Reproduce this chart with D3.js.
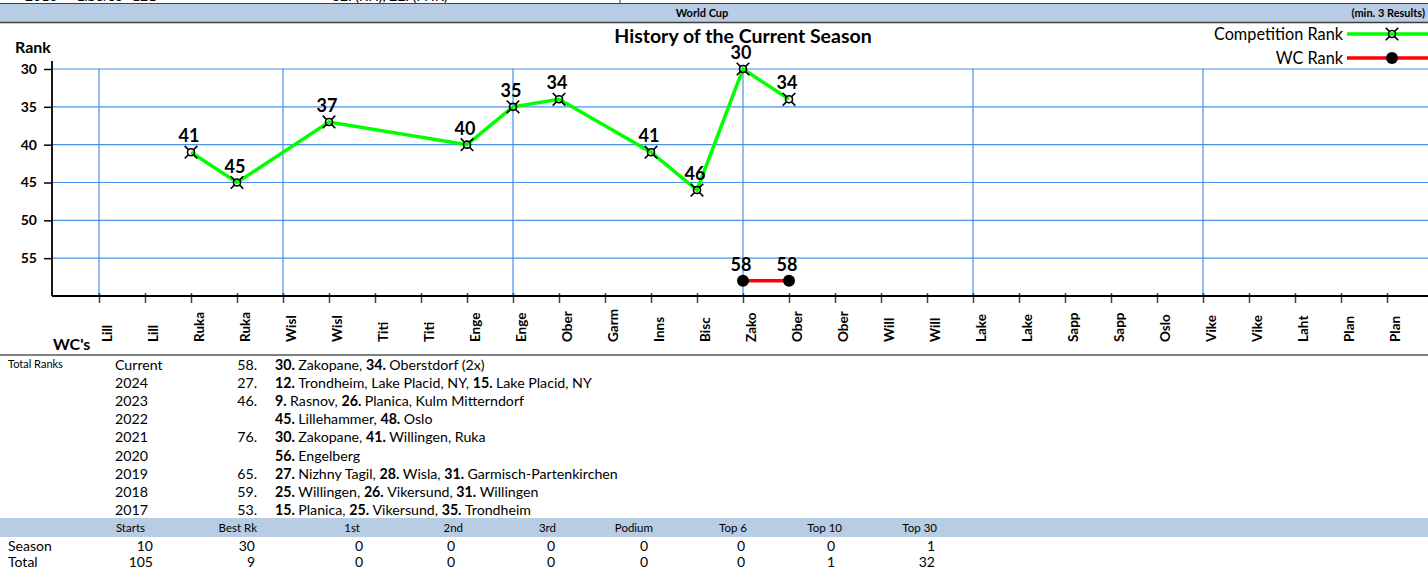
<!DOCTYPE html>
<html>
<head>
<meta charset="utf-8">
<script src="https://cdn.jsdelivr.net/npm/d3@7"></script>
<style>
body { margin: 0; background: #fff; }
svg text { font-family: Lato, "Open Sans", sans-serif; fill: #000; }
</style>
</head>
<body>
<div class="chart"></div>
<script>
// ---- data ----
const venues = ['Lill','Lill','Ruka','Ruka','Wisl','Wisl','Titi','Titi','Enge','Enge',
  'Ober','Garm','Inns','Bisc','Zako','Ober','Ober','Will','Will','Lake','Lake',
  'Sapp','Sapp','Oslo','Vike','Vike','Laht','Plan','Plan'];
const compRank = [null,null,41,45,null,37,null,null,40,35,34,null,41,46,30,34,
  null,null,null,null,null,null,null,null,null,null,null,null,null];
const wcRank = [null,null,null,null,null,null,null,null,null,null,null,null,null,null,58,58,
  null,null,null,null,null,null,null,null,null,null,null,null,null];
const rankTicks = [30,35,40,45,50,55];
const gridIdx = [0,4,9,14,19,24];

const yearLabels = ['Current','2024','2023','2022','2021','2020','2019','2018','2017'];
const yearTotals = ['58.','27.','46.','','76.','','65.','59.','53.'];
const yearBest = [
  '**30.** Zakopane, **34.** Oberstdorf (2x)',
  '**12.** Trondheim, Lake Placid, NY, **15.** Lake Placid, NY',
  '**9.** Rasnov, **26.** Planica, Kulm Mitterndorf',
  '**45.** Lillehammer, **48.** Oslo',
  '**30.** Zakopane, **41.** Willingen, Ruka',
  '**56.** Engelberg',
  '**27.** Nizhny Tagil, **28.** Wisla, **31.** Garmisch-Partenkirchen',
  '**25.** Willingen, **26.** Vikersund, **31.** Willingen',
  '**15.** Planica, **25.** Vikersund, **35.** Trondheim'
];
const statHeaders = ['Starts','Best Rk','1st','2nd','3rd','Podium','Top 6','Top 10','Top 30'];
const seasonStats = [10,30,0,0,0,0,0,0,1];
const totalStats = [105,9,0,0,0,0,0,1,32];

// ---- layout ----
const W = 1428, H = 568;
const svg = d3.select('.chart').append('svg')
  .attr('width', W).attr('height', H);

// header strip (bottom of previous row + World Cup band)
const prev = svg.append('g').attr('font-size', 14);
[['2016', 25], ['Liberec', 77], ['121', 132], ['32. (KH), 22. (FHK)', 332]].forEach(d => {
  prev.append('text').attr('x', d[1]).attr('y', 1).text(d[0]);
});
svg.append('line').attr('x1', 620).attr('x2', 620).attr('y1', 0).attr('y2', 4)
  .attr('stroke', '#404040');
svg.append('rect').attr('x', 0).attr('y', 4).attr('width', W).attr('height', 18)
  .attr('fill', '#b8cce4');
svg.append('line').attr('x1', 0).attr('x2', W).attr('y1', 3.5).attr('y2', 3.5)
  .attr('stroke', '#404040').attr('stroke-width', 1);
svg.append('line').attr('x1', 0).attr('x2', W).attr('y1', 22.5).attr('y2', 22.5)
  .attr('stroke', '#404040').attr('stroke-width', 1.5);
svg.append('text').attr('x', 702).attr('y', 16.5).attr('text-anchor', 'middle')
  .attr('font-size', 11).attr('font-weight', 'bold').text('World Cup');
svg.append('text').attr('x', 1425).attr('y', 16.5).attr('text-anchor', 'end')
  .attr('font-size', 11).attr('font-weight', 'bold').text('(min. 3 Results)');

// scales
const x = d3.scalePoint().domain(d3.range(venues.length)).range([99, 1387]);
const y = d3.scaleLinear().domain([30, 60]).range([69, 296]);
const left = 52, right = W;

// gridlines
const grid = svg.append('g').attr('stroke', '#4a90e8').attr('stroke-width', 1.2);
grid.selectAll('.h').data(rankTicks).enter().append('line')
  .attr('x1', left).attr('x2', right).attr('y1', d => y(d)).attr('y2', d => y(d));
grid.selectAll('.v').data(gridIdx).enter().append('line')
  .attr('x1', d => x(d)).attr('x2', d => x(d)).attr('y1', y(30)).attr('y2', y(60));

// y axis
const yAxis = svg.append('g').attr('transform', `translate(${left},0)`)
  .call(d3.axisLeft(y).tickValues(rankTicks).tickSize(8).tickPadding(7));
yAxis.select('.domain').remove();
yAxis.selectAll('line').attr('stroke', '#000').attr('stroke-width', 1.5);
yAxis.selectAll('text').attr('font-size', 14).attr('font-weight', 'bold')
  .attr('font-family', 'Lato, sans-serif').attr('fill', '#000');
svg.append('line').attr('x1', left).attr('x2', left).attr('y1', 61).attr('y2', 296)
  .attr('stroke', '#000').attr('stroke-width', 1.8);

// x axis
const xAxis = svg.append('g').attr('transform', 'translate(0,296)')
  .call(d3.axisBottom(x).tickSize(7).tickFormat(''));
xAxis.select('.domain').remove();
xAxis.selectAll('line').attr('y1', -3).attr('stroke', '#444').attr('stroke-width', 1.5);
svg.append('line').attr('x1', left).attr('x2', right).attr('y1', 296).attr('y2', 296)
  .attr('stroke', '#000').attr('stroke-width', 1.8);
svg.append('g').selectAll('text').data(venues).enter().append('text')
  .attr('transform', (d, i) => `translate(${x(i) + 13},342) rotate(-90)`)
  .attr('font-size', 13.5).attr('font-weight', 'bold')
  .text(d => d);

// axis titles and chart title
svg.append('text').attr('x', 15).attr('y', 53).attr('font-size', 16)
  .attr('font-weight', 'bold').text('Rank');
svg.append('text').attr('x', 53).attr('y', 350).attr('font-size', 16)
  .attr('font-weight', 'bold').text("WC's");
svg.append('text').attr('x', 743).attr('y', 43).attr('text-anchor', 'middle')
  .attr('font-size', 19.5).attr('font-weight', 'bold').text('History of the Current Season');

// marker helper (currency-sign style)
function drawMarker(g) {
  g.append('circle').attr('r', 3.5).attr('fill', 'none')
    .attr('stroke', '#000').attr('stroke-width', 1.6);
  g.append('path')
    .attr('d', 'M-6.3,-6.3L-2.4,-2.4M6.3,-6.3L2.4,-2.4M-6.3,6.3L-2.4,2.4M6.3,6.3L2.4,2.4')
    .attr('stroke', '#000').attr('stroke-width', 1.6);
}

// competition rank series
const comp = compRank.map((v, i) => ({i, v})).filter(d => d.v != null);
const wc = wcRank.map((v, i) => ({i, v})).filter(d => d.v != null);
const line = d3.line().x(d => x(d.i)).y(d => y(d.v));

svg.append('path').datum(comp).attr('d', line)
  .attr('fill', 'none').attr('stroke', '#00ff00').attr('stroke-width', 3.5);
svg.append('path').datum(wc).attr('d', line)
  .attr('fill', 'none').attr('stroke', '#ff0000').attr('stroke-width', 3.5);

svg.selectAll('.cm').data(comp).enter().append('g')
  .attr('transform', d => `translate(${x(d.i)},${y(d.v)})`)
  .each(function () { drawMarker(d3.select(this)); });
svg.selectAll('.wm').data(wc).enter().append('circle')
  .attr('cx', d => x(d.i)).attr('cy', d => y(d.v)).attr('r', 6).attr('fill', '#000');

// data labels
svg.selectAll('.cl').data(comp.concat(wc)).enter().append('text')
  .attr('x', d => x(d.i) - 2).attr('y', d => y(d.v) - 10)
  .attr('text-anchor', 'middle').attr('font-size', 18).attr('font-weight', 'bold')
  .text(d => d.v);

// legend
const legend = [
  {label: 'Competition Rank', color: '#00ff00', y: 34, comp: true},
  {label: 'WC Rank', color: '#ff0000', y: 58, comp: false}
];
legend.forEach(d => {
  svg.append('text').attr('x', 1343).attr('y', d.y + 5.5).attr('text-anchor', 'end')
    .attr('font-size', 16.3).text(d.label);
  svg.append('line').attr('x1', 1347).attr('x2', W).attr('y1', d.y).attr('y2', d.y)
    .attr('stroke', d.color).attr('stroke-width', 3.5);
  const g = svg.append('g').attr('transform', `translate(1392,${d.y})`);
  if (d.comp) drawMarker(g);
  else g.append('circle').attr('r', 6).attr('fill', '#000');
});

// separator under chart
svg.append('line').attr('x1', 0).attr('x2', W).attr('y1', 355).attr('y2', 355)
  .attr('stroke', '#808080').attr('stroke-width', 2);

// total ranks table
const rowY = i => 369.5 + i * 18.2;
svg.append('text').attr('x', 8).attr('y', 368).attr('font-size', 11).text('Total Ranks');
const rows = svg.append('g').attr('font-size', 14.2);
yearLabels.forEach((lab, i) => {
  rows.append('text').attr('x', 115).attr('y', rowY(i)).text(lab);
  rows.append('text').attr('x', 257).attr('y', rowY(i)).attr('text-anchor', 'end')
    .text(yearTotals[i]);
  const t = rows.append('text').attr('x', 275).attr('y', rowY(i));
  yearBest[i].split(/(\*\*[^*]+\*\*)/).filter(s => s.length).forEach(s => {
    const bold = s.startsWith('**');
    t.append('tspan').attr('font-weight', bold ? 'bold' : 'normal')
      .text(bold ? s.slice(2, -2) + ' ' : s);
  });
});

// stats table
svg.append('rect').attr('x', 0).attr('y', 518).attr('width', W).attr('height', 19)
  .attr('fill', '#b8cce4');
const colHead = [145, 257, 360, 463, 556, 653, 747, 842, 937];
const colVal = [153, 255, 363, 455, 555, 648, 745, 835, 935];
svg.append('g').selectAll('text').data(statHeaders).enter().append('text')
  .attr('x', (d, i) => colHead[i]).attr('y', 532).attr('text-anchor', 'end')
  .attr('font-size', 11.5).text(d => d);
[['Season', seasonStats, 550.5], ['Total', totalStats, 566.5]].forEach(r => {
  svg.append('text').attr('x', 8).attr('y', r[2]).attr('font-size', 14).text(r[0]);
  svg.append('g').selectAll('text').data(r[1]).enter().append('text')
    .attr('x', (d, i) => colVal[i]).attr('y', r[2]).attr('text-anchor', 'end')
    .attr('font-size', 14).text(d => d);
});
</script>
</body>
</html>
